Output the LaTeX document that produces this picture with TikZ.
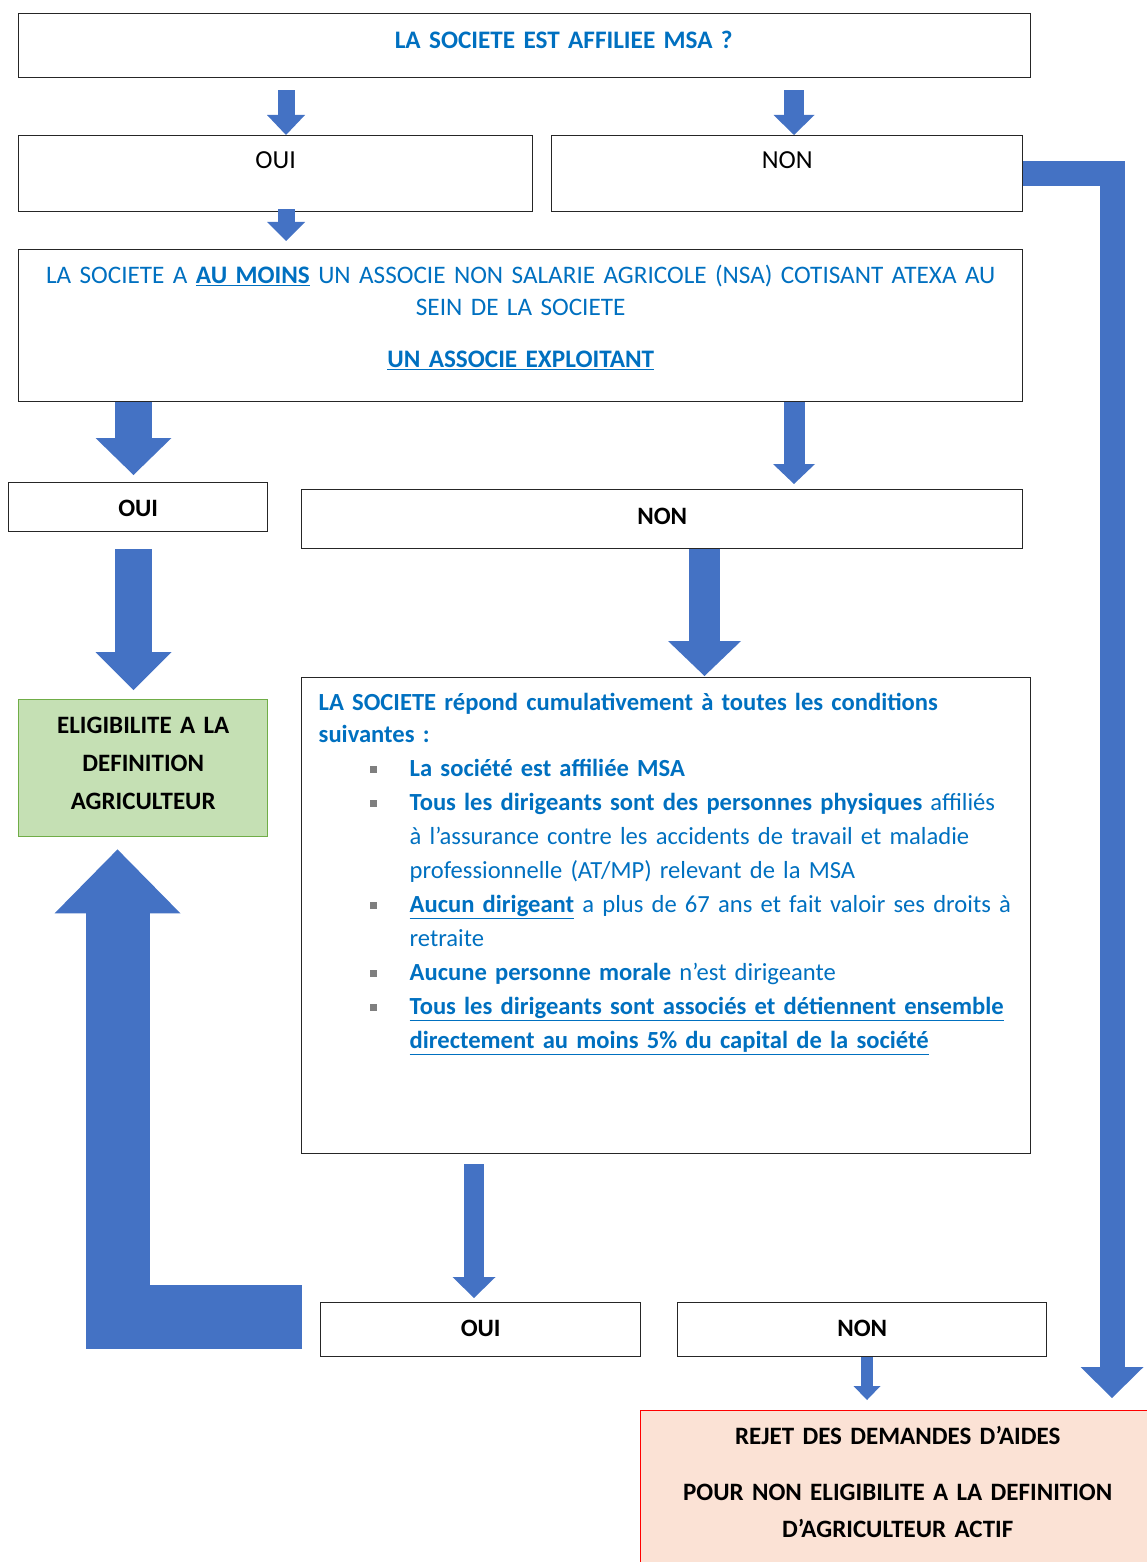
\documentclass[tikz,border=0pt]{standalone}
\usepackage{fontspec}
\usepackage{xcolor}
\setmainfont{Carlito}
\usetikzlibrary{arrows.meta}

\definecolor{arrowblue}{HTML}{4472C4}
\definecolor{textblue}{HTML}{0070C0}
\definecolor{eligfill}{HTML}{C5E0B4}
\definecolor{eligdraw}{HTML}{70AD47}
\definecolor{rejetfill}{HTML}{FBE2D5}
\definecolor{pucegray}{HTML}{7F7F7F}

\newcommand{\puce}{\makebox[91pt][l]{\hspace*{51pt}\textcolor{pucegray}{\rule[4pt]{7pt}{7pt}}}}
\newcommand{\retrait}{\hspace*{91pt}}

\tikzset{%
    every box/.style={
        draw=black!85,
        line width=1.4pt,
        inner sep=0pt,
        anchor=north west,
        align=center
    },
    box head/.style={
        text=textblue,
        font=\bfseries\fontsize{25.2}{32}\selectfont
    },
    box plain/.style={
        font=\fontsize{26}{30}\selectfont
    },
    box assoc/.style={
        text=textblue,
        font=\fontsize{25.2}{32}\selectfont
    },
    box green/.style={
        fill=eligfill,
        draw=eligdraw
    },
    box cond/.style={
        text=textblue,
        align=left,
        inner xsep=17pt,
        font=\fontsize{24.6}{34}\selectfont
    },
    box bold/.style={
        font=\bfseries\fontsize{25}{38}\selectfont
    },
    box red/.style={
        fill=rejetfill,
        draw=red
    },
    fat arrow/.style n args={3}{
        draw=arrowblue,
        line width=#1,
        line join=miter,
        -{Triangle[width=#2,length=#3,line width=0pt]}
    },
}

\begin{document}
\begin{tikzpicture}[x=1pt, y=-1pt]

    \useasboundingbox (0,0) rectangle (1146,1562);

    \coordinate (colA) at (286,0);
    \coordinate (colB) at (794,0);
    \coordinate (colC) at (133.5,0);
    \coordinate (colD) at (704.5,0);
    \coordinate (colE) at (474,0);
    \coordinate (colF) at (867,0);
    \coordinate (colG) at (1112,0);
    \coordinate (colH) at (117.5,0);

    \node [every box, box head, text width=1012pt, text height=35pt, text depth=29pt] (title) at (18,13) {\hspace*{78pt}LA SOCIETE EST AFFILIEE MSA ?};

    \node [every box, box plain, text width=514pt, text height=33pt, text depth=43pt] (oui1) at (18,135) {OUI};
    \node [every box, box plain, text width=471pt, text height=33pt, text depth=43pt] (non1) at (551,135) {NON};

    \node [every box, box assoc, text width=1004pt, text height=34pt, text depth=118pt] (assoc) at (18,249)
        {LA SOCIETE A \underline{\textbf{AU MOINS}} UN ASSOCIE NON SALARIE AGRICOLE (NSA) COTISANT ATEXA AU\\
         SEIN DE LA SOCIETE\\[20pt]
         \underline{\textbf{UN ASSOCIE EXPLOITANT}}};

    \node [every box, box bold, text width=259pt, text height=34pt, text depth=15pt] (oui2) at (8,482) {OUI};
    \node [every box, box bold, text width=721pt, text height=35pt, text depth=24pt] (non2) at (301,489) {NON};

    \node [every box, box bold, box green, text width=249pt, text height=34pt, text depth=103pt] (elig) at (18,699)
        {ELIGIBILITE A LA\\DEFINITION\\AGRICULTEUR};

    \node [every box, box cond, text width=695pt, text height=33pt, text depth=443pt] (cond) at (301,677)
        {\textbf{LA SOCIETE répond cumulativement à toutes les conditions}\\[-2pt]
         \textbf{suivantes :}\\
         \puce\textbf{La société est affiliée MSA}\\
         \puce\textbf{Tous les dirigeants sont des personnes physiques} affiliés\\
         \retrait à l’assurance contre les accidents de travail et maladie\\
         \retrait professionnelle (AT/MP) relevant de la MSA\\
         \puce\underline{\textbf{Aucun dirigeant}} a plus de 67 ans et fait valoir ses droits à\\
         \retrait retraite\\
         \puce\textbf{Aucune personne morale} n’est dirigeante\\
         \puce\underline{\textbf{Tous les dirigeants sont associés et détiennent ensemble}}\\
         \retrait\underline{\textbf{directement au moins 5\% du capital de la société}}};

    \node [every box, box bold, text width=320pt, text height=34pt, text depth=20pt] (oui3) at (320,1302) {OUI};
    \node [every box, box bold, text width=369pt, text height=34pt, text depth=20pt] (non3) at (677,1302) {NON};

    \node [every box, box bold, box red, text width=514pt, text height=34pt, text depth=180pt] (reject) at (640,1410)
        {REJET DES DEMANDES D’AIDES\\[18pt]
         POUR NON ELIGIBILITE A LA DEFINITION\\[-1pt]
         D’AGRICULTEUR ACTIF};

    \foreach \src/\dst/\col/\s/\w/\l/\p/\q in {
        title/oui1/colA/17/38/20/12/0,
        title/non1/colB/20/41/20/12/0,
        oui1/assoc/colA/17/38/19/-3/8,
        assoc/oui2/colC/37/76/37/0/7,
        assoc/non2/colB/21/42/20/0/5,
        oui2/elig/colC/37/76/38/17/9,
        non2/cond/colD/31/73/35/0/1,
        cond/oui3/colE/20/43/21/10/4,
        non3/reject/colF/12/27/14/0/10}
        \draw [fat arrow={\s pt}{\w pt}{\l pt}, shorten <=\p pt, shorten >=\q pt] (\src.south -| \col) -- (\dst.north -| \col);

    \draw [fat arrow={25pt}{63pt}{31pt}, shorten >=12pt] (non1.east) -| (reject.north -| colG);

    \draw [fat arrow={64pt}{126pt}{64pt}, shorten <=18pt, shorten >=12pt] ([yshift=13pt]oui3.west) -| (elig.south -| colH);

\end{tikzpicture}
\end{document}
